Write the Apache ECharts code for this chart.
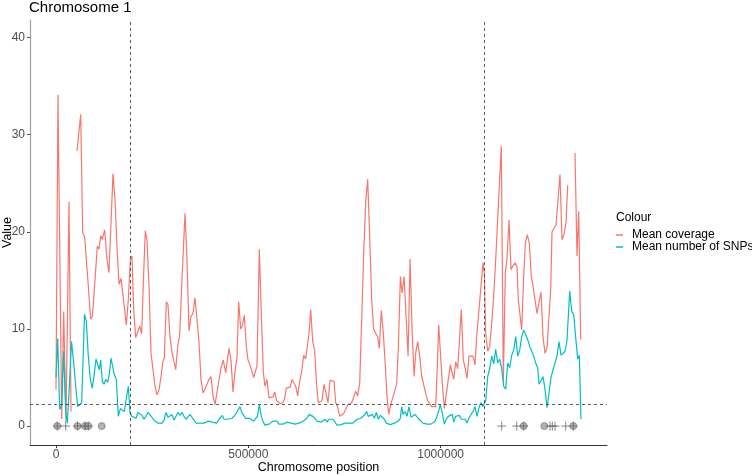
<!DOCTYPE html>
<html>
<head>
<meta charset="utf-8">
<script src="https://cdn.jsdelivr.net/npm/echarts@6/dist/echarts.min.js"></script>
<style>
  html, body { margin: 0; background: #fff; }
  #chromosome { width: 752px; height: 476px; }
</style>
</head>
<body>
<div id="chromosome"></div>
<script>
// [position (bp), mean coverage]; null marks a gap in the window data
const coverage = [
  [0, 3.75], [5200, 34.1], [14800, 0.7], [20000, 11.8], [26000, 0.5], [33800, 23.1], [39000, 1.5], [45000, null],
  [54600, 28.3], [64200, 32.1], [69400, 19.9], [74600, 19.4], [78800, 19.5], [84000, 14.4], [90200, 11.0], [94400, 11.3],
  [98800, 13.5], [103200, 13.7], [107400, 18.5], [111800, 18.2], [116200, 19.6], [120400, 19.2], [126600, 20.2], [132600, 17.1],
  [137800, 15.8], [148200, 26.0], [153400, 23.3], [158600, 18.5], [163800, 14.6], [169000, 15.2], [173400, 15.1], [177600, 12.3],
  [182800, 10.4], [188000, 13.0], [193200, 17.1], [197600, 17.5], [202000, 12.0], [207200, 9.1], [212400, 9.0], [217600, 10.3],
  [222800, 9.5], [228000, 15.8], [232200, 20.1], [236600, 19.1], [241800, 14.4], [247000, 7.5], [252200, 5.8], [257400, 4.1],
  [262600, 3.2], [267800, 3.7], [273000, 5.1], [278200, 6.7], [281600, 7.0], [286800, 12.8], [291200, 12.5], [296400, 9.2],
  [301600, 7.6], [306000, 7.5], [311200, 5.8], [316400, 8.2], [321600, 9.4], [326800, 14.4], [335400, 21.9], [340600, 17.1],
  [345800, 9.8], [351000, 11.3], [356200, 11.6], [361400, 13.2], [366600, 11.0], [371800, 8.6], [377000, 4.8], [382200, 3.4],
  [387400, 3.8], [392600, 3.9], [397800, 4.8], [403000, 5.1], [408200, 3.1], [413400, 2.2], [418600, 2.0], [429000, 6.0],
  [435000, 6.8], [441200, 5.5], [445400, 5.4], [449800, 8.0], [455000, 6.8], [460200, 3.5], [465400, 5.6], [470600, 7.1],
  [475000, 12.8], [480200, 10.0], [484400, 10.3], [489600, 11.4], [494800, 8.2], [499200, 6.8], [504400, 6.3], [508800, 6.1],
  [514000, 5.0], [518200, 5.0], [522600, 6.2], [528600, 18.2], [533800, 11.6], [539000, 5.5], [543400, 4.1], [548600, 4.8],
  [553800, 2.9], [559000, 3.1], [564200, 3.0], [568600, 3.5], [573800, 2.6], [579000, 2.7], [583200, 2.3], [589400, 2.4],
  [593600, 2.7], [598800, 3.9], [604000, 4.1], [609200, 4.0], [613600, 4.8], [618000, 5.0], [623200, 4.1], [628400, 3.1],
  [633600, 4.6], [638800, 5.6], [644000, 7.3], [649200, 6.9], [653400, 8.2], [657800, 9.5], [662200, 12.0], [667400, 8.7],
  [672600, 7.8], [677800, 4.1], [682000, 2.4], [687200, 2.2], [691600, 2.6], [696800, 4.3], [702000, 3.4], [707200, 2.4],
  [712400, 4.7], [717600, 4.9], [722800, 4.6], [727200, 2.4], [732400, 2.0], [737600, 1.0], [742800, 1.1], [748000, 1.3],
  [753200, 1.7], [758400, 2.2], [763600, 2.4], [768800, 2.4], [774000, 2.6], [779200, 3.6], [784400, 3.1], [789600, 4.4],
  [794800, 11.0], [800000, 17.8], [805200, 23.0], [810400, 25.4], [815600, 19.5], [820800, 13.0], [826000, 9.9], [831200, 10.1],
  [836400, 9.2], [840600, 8.0], [845800, 11.9], [851000, 9.6], [856200, 6.2], [860600, 3.1], [865000, 1.2], [870200, 2.2],
  [875400, 2.2], [880600, 3.6], [885800, 4.4], [890200, 8.2], [895400, 15.4], [899800, 13.7], [905000, 15.4], [910200, 11.3],
  [915400, 7.2], [920600, 17.2], [925800, 9.9], [931000, 5.1], [935200, 7.5], [940400, 8.7], [945600, 7.2], [950800, 5.1],
  [956000, 5.0], [961200, 3.4], [966400, 2.6], [971600, 2.7], [976800, 2.0], [982000, 2.0], [987200, 2.0], [992400, 7.2],
  [995000, 10.4], [999200, 10.3], [1004400, 4.4], [1009600, 1.8], [1014800, 2.0], [1020000, 4.8], [1025200, 6.3], [1029600, 6.4],
  [1034000, 4.8], [1039200, 6.6], [1044400, 5.9], [1048600, 8.6], [1053800, 12.0], [1059000, 6.8], [1064200, 5.9], [1068600, 4.9],
  [1073800, 7.2], [1079000, 7.3], [1084200, 7.2], [1089400, 6.3], [1094600, 9.6], [1099800, 12.0], [1105000, 14.4], [1110200, 16.8],
  [1113600, 15.8], [1117200, 9.6], [1122400, 7.7], [1127600, 8.2], [1132800, 10.6], [1138000, 13.4], [1143200, 17.1], [1147400, 17.3],
  [1152600, 24.7], [1157800, 28.8], [1163000, 4.5], [1168200, 15.8], [1172600, 17.2], [1177800, 21.2], [1183000, 16.1], [1188200, 16.5],
  [1193400, 16.8], [1198600, 16.4], [1202000, 13.0], [1206400, 13.2], [1210800, 9.9], [1216000, 15.4], [1220200, 18.8], [1225400, 19.7],
  [1230600, 18.8], [1235800, 15.4], [1240200, 14.4], [1245400, 14.6], [1250600, 11.6], [1255800, 11.6], [1261000, 13.8], [1266200, 9.2],
  [1271400, 7.5], [1276600, 8.0], [1281800, 8.0], [1286200, 14.0], [1289600, 20.0], [1294800, 19.8], [1300000, 20.7], [1305200, 23.3],
  [1310400, 25.9], [1315600, 19.2], [1320800, 19.7], [1326000, 20.9], [1330400, 24.8], [1340000, null], [1349400, 28.1], [1354600, 17.5],
  [1359000, 22.1], [1364200, 8.9]
];

// [position (bp), mean number of SNPs]
const snps = [
  [0, 5.0], [4400, 9.0], [9600, 1.7], [14800, 2.2], [20000, 7.7], [25200, 1.4], [29400, 0.3], [34600, 4.0],
  [40300, 8.7], [46000, 6.5], [51200, 4.1], [56400, 2.0], [61600, 1.9], [66800, 2.4], [74100, 11.5], [78800, 10.8],
  [84000, 7.2], [89200, 4.8], [94400, 3.9], [99600, 5.4], [104000, 6.9], [108400, 7.0], [112600, 5.8], [116200, 6.8],
  [120400, 4.6], [124800, 4.3], [129200, 4.8], [134400, 4.5], [138800, 5.4], [143000, 7.0], [147400, 6.9], [151600, 5.3],
  [156800, 4.8], [162000, 1.0], [167200, 1.8], [172400, 2.0], [177600, 1.5], [182800, 1.7], [188000, 4.1], [192400, 1.4],
  [197600, 1.0], [202800, 1.1], [208000, 0.8], [213200, 1.4], [218400, 1.6], [223600, 1.1], [228800, 0.7], [234000, 0.6],
  [239200, 1.4], [244400, 1.2], [249600, 0.9], [254800, 0.6], [260000, 0.4], [265200, 0.3], [270400, 0.4], [275600, 0.3],
  [280800, 0.6], [286000, 1.4], [291200, 0.9], [296400, 1.0], [301600, 1.2], [306800, 0.6], [312000, 0.5], [317200, 1.4],
  [322400, 1.1], [327600, 1.4], [332800, 1.0], [338000, 0.7], [343200, 0.7], [348400, 1.2], [353600, 1.0], [358800, 0.6],
  [364000, 0.3], [369200, 0.2], [374400, 0.3], [379600, 0.5], [384800, 0.3], [390000, 0.3], [395200, 0.5], [400400, 0.6],
  [405600, 0.4], [410800, 0.2], [417800, 0.3], [423800, 0.7], [428200, 0.6], [432400, 1.1], [436800, 0.7], [442000, 0.9],
  [447200, 0.7], [452400, 0.5], [457600, 0.8], [462800, 0.7], [467200, 1.2], [471400, 1.0], [478400, 2.0], [482800, 1.4],
  [488000, 1.5], [493200, 0.8], [498400, 0.7], [503600, 0.8], [508800, 1.0], [514000, 0.5], [518200, 0.3], [523400, 1.0],
  [528600, 2.2], [533800, 1.0], [539000, 0.4], [543400, 0.1], [548600, 0.2], [553800, 0.2], [559000, 0.3], [564200, 0.5],
  [569400, 0.3], [574600, 0.5], [579800, 0.2], [585000, 0.3], [590200, 0.2], [595400, 0.3], [600600, 0.4], [605800, 0.5],
  [611000, 0.3], [616200, 0.5], [621400, 0.2], [626600, 0.3], [631800, 0.3], [637000, 0.4], [642200, 0.5], [647400, 0.7],
  [652600, 0.8], [657800, 1.2], [663000, 1.4], [668200, 1.0], [673400, 1.2], [678600, 0.5], [683800, 0.3], [689000, 0.4],
  [694200, 0.5], [699400, 0.7], [704600, 0.4], [709800, 0.7], [715000, 0.8], [720200, 0.7], [725400, 0.8], [730600, 0.1],
  [735800, 0.05], [741000, 0.15], [746200, 0.05], [751400, 0.3], [756600, 0.15], [761800, 0.3], [767000, 0.3], [772200, 0.3],
  [777400, 0.4], [782600, 0.7], [787800, 0.5], [793000, 0.8], [798200, 1.0], [803400, 1.2], [807800, 1.5], [812000, 1.0],
  [817200, 0.8], [822400, 1.2], [827600, 0.8], [832800, 1.4], [838000, 0.7], [843200, 1.1], [848400, 1.0], [853600, 0.7],
  [858800, 0.3], [864000, 0.15], [869200, 0.15], [874400, 0.15], [879600, 0.3], [884800, 0.3], [890000, 0.5], [895200, 0.8],
  [898800, 2.0], [902200, 1.2], [907400, 1.5], [912600, 1.0], [917800, 2.0], [923000, 0.9], [928200, 1.0], [933400, 1.2],
  [938600, 1.1], [943800, 0.7], [949000, 0.5], [954200, 0.3], [959400, 0.25], [964600, 0.2], [969800, 0.2], [975000, 0.2],
  [980200, 0.3], [985400, 0.5], [990600, 1.0], [995800, 1.7], [999200, 2.2], [1004400, 1.3], [1009600, 0.2], [1014800, 0.7],
  [1020000, 1.0], [1025200, 0.85], [1030400, 1.2], [1034000, 0.4], [1039200, 1.0], [1044400, 0.85], [1048600, 1.1], [1053800, 0.7],
  [1059000, 0.5], [1064200, 0.7], [1068600, 0.3], [1073800, 0.85], [1079000, 1.0], [1084200, 1.5], [1089400, 2.0], [1094600, 1.0],
  [1099800, 1.9], [1105000, 2.4], [1110200, 2.0], [1113600, 2.3], [1117200, 2.6], [1122400, 5.1], [1127600, 5.9], [1132800, 7.2],
  [1138000, 6.4], [1143200, 7.9], [1148400, 6.5], [1153600, 6.9], [1158800, 5.9], [1164000, 4.1], [1169200, 3.8], [1174400, 6.5],
  [1179600, 6.0], [1184800, 7.3], [1190000, 7.8], [1195200, 9.2], [1200400, 7.2], [1205600, 7.8], [1210800, 9.2], [1216000, 9.9],
  [1221200, 9.4], [1226400, 8.9], [1231600, 8.2], [1236800, 8.0], [1242000, 7.2], [1247200, 6.5], [1252400, 6.0], [1255800, 4.3],
  [1261000, 4.7], [1266200, 5.1], [1271400, 3.8], [1276600, 1.9], [1281800, 3.4], [1287000, 5.0], [1292200, 5.8], [1297400, 6.5],
  [1302600, 7.2], [1307800, 8.7], [1313000, 7.3], [1318200, 7.2], [1323400, 7.7], [1328600, 8.8], [1335600, 13.9], [1340800, 11.8],
  [1346000, 11.5], [1351200, 9.1], [1356400, 6.9], [1360600, 7.3], [1365000, 0.7]
];

// markers drawn along y = 0
const circlePos = [3400, 55900, 75400, 84000, 118800, 1216000, 1269600, 1345000];
const plusPos = [3400, 25200, 55900, 75400, 84000, 1158800, 1197800, 1216000, 1284400, 1290400, 1297400, 1325200, 1345000];

// dashed reference lines
const boundaries = [193000, 1113000];
const threshold = 2.28;

const xTicks = [0, 500000, 1000000];
const yTicks = [0, 10, 20, 30, 40];

const red = '#F8766D';
const teal = '#00BFC4';
const font = 'Liberation Sans';

const chart = echarts.init(document.getElementById('chromosome'));
chart.setOption({
  animation: false,
  textStyle: { fontFamily: font },
  title: [
    { text: 'Chromosome 1', left: 29, top: 0, padding: 0,
      textStyle: { fontSize: 15, fontWeight: 'normal', color: '#000', fontFamily: font } },
    { text: 'Colour', left: 616, top: 212, padding: 0,
      textStyle: { fontSize: 12, fontWeight: 'normal', color: '#000', fontFamily: font } }
  ],
  legend: {
    data: ['Mean coverage', 'Mean number of SNPs'],
    orient: 'vertical',
    left: 616,
    top: 229,
    padding: 0,
    itemGap: 0,
    itemWidth: 7,
    itemHeight: 1.5,
    icon: 'rect',
    selectedMode: false,
    textStyle: { fontSize: 12, lineHeight: 12, color: '#000', padding: [0, 0, 0, 4], fontFamily: font }
  },
  grid: { left: 30, right: 145, top: 20, bottom: 31, outerBoundsMode: 'none' },
  xAxis: {
    type: 'value',
    min: -67600,
    max: 1432600,
    name: 'Chromosome position',
    nameLocation: 'middle',
    nameGap: 16,
    nameMoveOverlap: false,
    nameTextStyle: { fontSize: 12.5, color: '#000' },
    axisLine: { show: true, onZero: false, lineStyle: { color: '#333', width: 1 } },
    axisTick: { show: true, length: 3, customValues: xTicks, lineStyle: { color: '#333' } },
    axisLabel: { customValues: xTicks, margin: 4, fontSize: 12, color: '#4d4d4d', formatter: v => String(v) },
    splitLine: { show: false }
  },
  yAxis: {
    type: 'value',
    min: -1.95,
    max: 41.8,
    name: 'Value',
    nameLocation: 'middle',
    nameGap: 16,
    nameMoveOverlap: false,
    nameTextStyle: { fontSize: 12.5, color: '#000' },
    axisLine: { show: true, onZero: false, lineStyle: { color: '#a0a0a0', width: 1.2 } },
    axisTick: { show: true, length: 3, customValues: yTicks, lineStyle: { color: '#555' } },
    axisLabel: { customValues: yTicks, margin: 5, fontSize: 12, color: '#4d4d4d' },
    splitLine: { show: false }
  },
  series: [
    {
      name: 'Mean coverage',
      type: 'line',
      data: coverage,
      showSymbol: false,
      color: red,
      lineStyle: { width: 1.2, color: red },
      emphasis: { disabled: true },
      markLine: {
        silent: true,
        symbol: 'none',
        label: { show: false },
        lineStyle: { type: [3, 3], color: '#333', width: 0.8 },
        data: boundaries.map(b => ({ xAxis: b })).concat([{ yAxis: threshold }])
      }
    },
    {
      name: 'Mean number of SNPs',
      type: 'line',
      data: snps,
      showSymbol: false,
      color: teal,
      lineStyle: { width: 1.2, color: teal },
      emphasis: { disabled: true }
    },
    {
      name: 'sites',
      type: 'scatter',
      data: circlePos.map(p => [p, 0]),
      symbol: 'circle',
      symbolSize: 7,
      itemStyle: { color: '#a0a0a0', borderColor: '#707070', borderWidth: 0.8 },
      emphasis: { disabled: true },
      z: 3
    },
    {
      name: 'variants',
      type: 'scatter',
      data: plusPos.map(p => [p, 0]),
      symbol: 'path://M0,5L10,5M5,0L5,10',
      symbolSize: 9,
      itemStyle: { color: 'transparent', borderColor: '#666', borderWidth: 1 },
      emphasis: { disabled: true },
      z: 4
    }
  ]
});
</script>
</body>
</html>
